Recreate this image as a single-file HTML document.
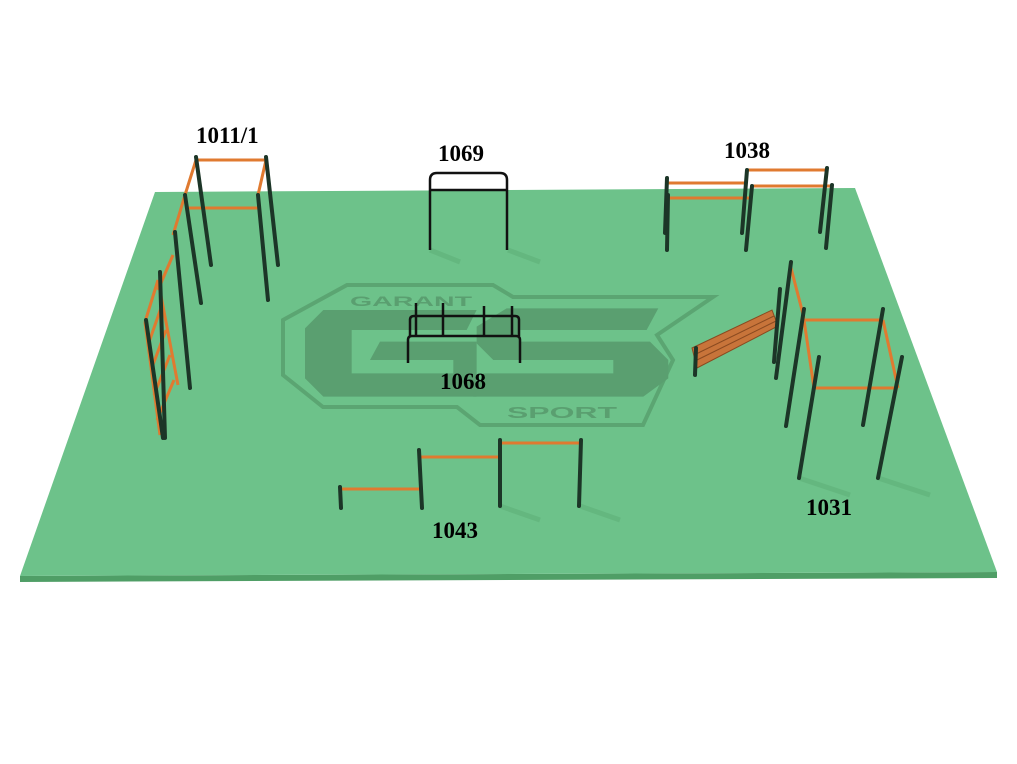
<!DOCTYPE html>
<html><head><meta charset="utf-8"><style>
html,body{margin:0;padding:0;background:#fff;width:1017px;height:764px;overflow:hidden}
svg{display:block}
text.l{font-family:"Liberation Serif",serif;font-weight:bold;font-size:23px;fill:#000}
</style></head><body>
<svg width="1017" height="764" viewBox="0 0 1017 764">
<polygon points="20,576 997,572 997,578 20,582" fill="#4f9e66"/>
<polygon points="155,192 855,188 997,572 20,576" fill="#6dc28a"/>
<!-- logo -->
<polygon points="283,320 347,285 493,285 513,297 713,297 657,335 673,360 643,425 480,425 457,407 323,407 283,375" fill="none" stroke="#5ba572" stroke-width="4"/>
<g transform="translate(280,260) scale(0.3333)" fill="#5a9f70">
<path d="M130,150 L590,150 L560,210 L215,210 L215,340 L520,340 L520,300 L270,300 L300,245 L590,245 L590,410 L130,410 L75,355 L75,205 Z"/>
<path d="M680,145 L1135,145 L1100,210 L720,210 L720,245 L1110,245 L1165,300 L1165,355 L1090,410 L580,410 L610,340 L1000,340 L1000,300 L640,300 L590,250 L590,200 Z"/>
</g>
<g font-family="Liberation Sans,sans-serif" font-weight="bold" fill="#5a9f70">
<text x="350" y="306" font-size="14" textLength="122" lengthAdjust="spacingAndGlyphs">GARANT</text>
<text x="507" y="418" font-size="16" textLength="110" lengthAdjust="spacingAndGlyphs">SPORT</text>
</g>
<!-- shadows -->
<g stroke="#5fb078" stroke-width="5" opacity="0.6">
<line x1="430" y1="250" x2="460" y2="262"/><line x1="508" y1="250" x2="540" y2="262"/>
<line x1="580" y1="506" x2="620" y2="520"/><line x1="500" y1="506" x2="540" y2="520"/>
<line x1="878" y1="478" x2="930" y2="495"/><line x1="799" y1="478" x2="850" y2="495"/>
</g>
<!-- orange bars -->
<g stroke="#e07a30" stroke-width="3" fill="none">
<line x1="196" y1="160" x2="266" y2="160"/><line x1="185" y1="208" x2="258" y2="208"/>
<line x1="196" y1="160" x2="185" y2="195"/><line x1="266" y1="160" x2="258" y2="195"/>
<line x1="185" y1="195" x2="173" y2="235"/><line x1="173" y1="255" x2="158" y2="290"/>
<line x1="145" y1="322" x2="160" y2="435"/><line x1="158" y1="280" x2="178" y2="385"/>
<line x1="145" y1="322" x2="158" y2="280"/><line x1="148" y1="345" x2="162" y2="305"/>
<line x1="151" y1="370" x2="166" y2="330"/><line x1="154" y1="395" x2="170" y2="355"/>
<line x1="157" y1="420" x2="174" y2="380"/>
<line x1="667" y1="183" x2="747" y2="183"/><line x1="668" y1="198" x2="752" y2="198"/>
<line x1="747" y1="170" x2="827" y2="170"/><line x1="752" y1="186" x2="832" y2="186"/>
<line x1="804" y1="320" x2="883" y2="320"/><line x1="814" y1="388" x2="898" y2="388"/>
<line x1="804" y1="320" x2="814" y2="388"/><line x1="883" y1="320" x2="898" y2="388"/>
<line x1="791" y1="268" x2="804" y2="318"/>
<line x1="340" y1="489" x2="420" y2="489"/><line x1="419" y1="457" x2="500" y2="457"/><line x1="500" y1="443" x2="581" y2="443"/>
</g>
<!-- bench -->
<polygon points="692,348 772,310 778,326 697,368" fill="#c8743a" stroke="#8a4a20" stroke-width="1"/>
<g stroke="#8a4a20" stroke-width="1"><line x1="694" y1="355" x2="774" y2="316"/><line x1="695" y1="361" x2="776" y2="321"/></g>
<!-- posts -->
<g stroke="#1c3527" stroke-width="4" stroke-linecap="round">
<line x1="196" y1="157" x2="211" y2="265"/><line x1="266" y1="157" x2="278" y2="265"/>
<line x1="185" y1="195" x2="201" y2="303"/><line x1="258" y1="195" x2="268" y2="300"/>
<line x1="175" y1="232" x2="190" y2="388"/><line x1="160" y1="272" x2="165" y2="438"/>
<line x1="146" y1="320" x2="163" y2="438"/>
<line x1="667" y1="178" x2="665" y2="233"/><line x1="668" y1="195" x2="667" y2="250"/>
<line x1="747" y1="170" x2="742" y2="233"/><line x1="752" y1="186" x2="746" y2="250"/>
<line x1="827" y1="168" x2="820" y2="232"/><line x1="832" y1="185" x2="826" y2="248"/>
<line x1="791" y1="262" x2="776" y2="378"/><line x1="780" y1="289" x2="774" y2="362"/>
<line x1="804" y1="309" x2="786" y2="426"/><line x1="883" y1="309" x2="863" y2="425"/>
<line x1="819" y1="357" x2="799" y2="478"/><line x1="902" y1="357" x2="878" y2="478"/>
<line x1="696" y1="348" x2="695" y2="375"/>
<line x1="340" y1="487" x2="341" y2="508"/><line x1="419" y1="450" x2="422" y2="508"/>
<line x1="500" y1="440" x2="500" y2="506"/><line x1="581" y1="440" x2="579" y2="506"/>
</g>
<!-- black frames -->
<g stroke="#111" stroke-width="2.5" fill="none">
<path d="M430,250 V180 Q430,173 437,173 H500 Q507,173 507,180 V250"/>
<line x1="430" y1="190" x2="507" y2="190"/>
<path d="M410,336 V320 Q410,316 414,316 H515 Q519,316 519,320 V336"/>
<path d="M408,363 V340 Q408,336 412,336 H516 Q520,336 520,340 V363"/>
<line x1="416" y1="303" x2="416" y2="336"/><line x1="443" y1="303" x2="443" y2="336"/>
<line x1="484" y1="306" x2="484" y2="336"/><line x1="512" y1="306" x2="512" y2="336"/>
</g>
<text class="l" x="196" y="143">1011/1</text>
<text class="l" x="438" y="161">1069</text>
<text class="l" x="724" y="158">1038</text>
<text class="l" x="440" y="389">1068</text>
<text class="l" x="432" y="538">1043</text>
<text class="l" x="806" y="515">1031</text>
</svg>
</body></html>
